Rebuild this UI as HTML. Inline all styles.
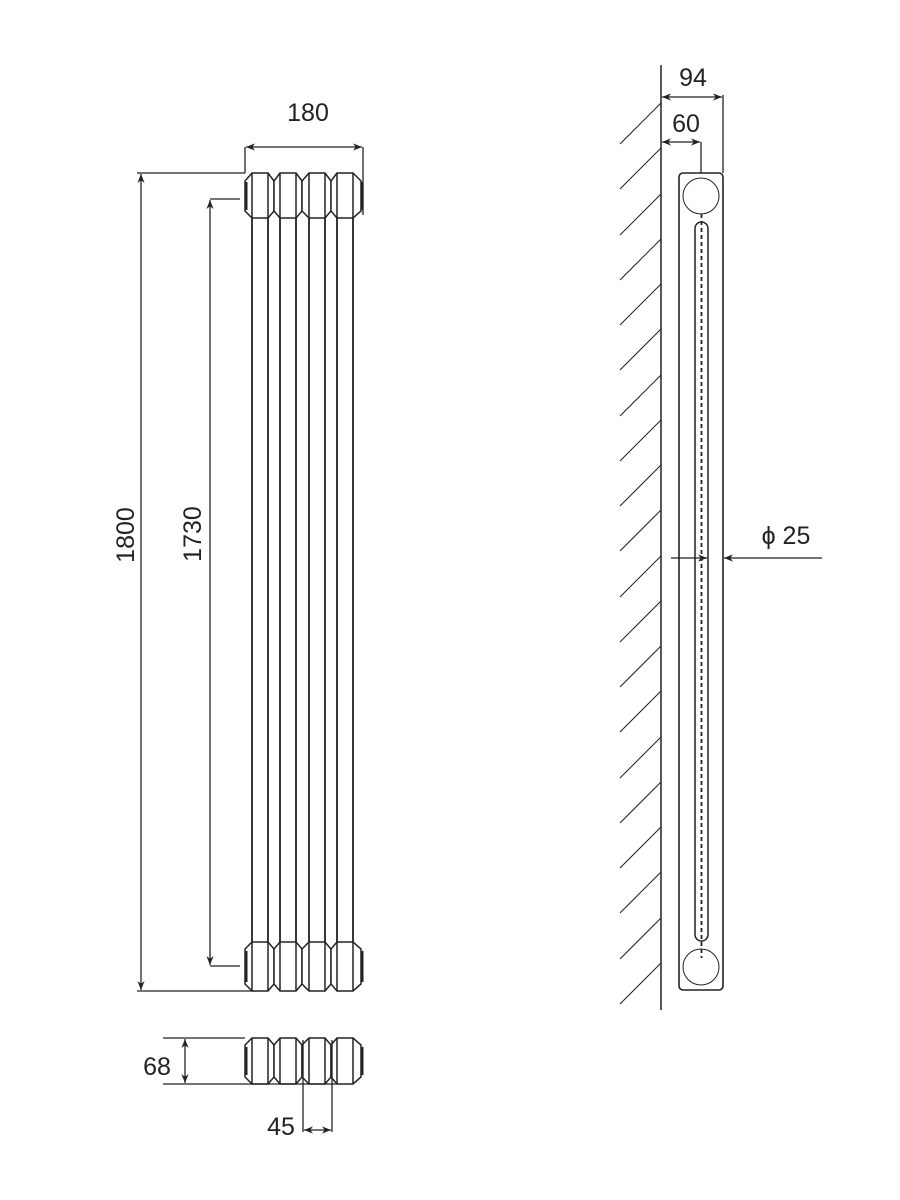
<!DOCTYPE html>
<html><head><meta charset="utf-8"><style>html,body{margin:0;padding:0;background:#fff}svg{display:block}</style></head>
<body>
<svg width="900" height="1200" viewBox="0 0 900 1200" xmlns="http://www.w3.org/2000/svg" font-family="Liberation Sans, sans-serif">
<defs>
<marker id="a" viewBox="0 0 10 10" refX="10" refY="5" markerWidth="9" markerHeight="9" orient="auto-start-reverse" markerUnits="userSpaceOnUse"><path d="M0,1 L10,5 L0,9 L3,5 z" fill="#222"/></marker>
</defs>
<g stroke="#222" stroke-width="1.3" fill="none">
<!-- front view tubes -->
<g stroke-width="1.8">
<line x1="252" y1="173" x2="252" y2="991"/><line x1="268" y1="173" x2="268" y2="991"/>
<line x1="280" y1="173" x2="280" y2="991"/><line x1="296" y1="173" x2="296" y2="991"/>
<line x1="309" y1="173" x2="309" y2="991"/><line x1="325" y1="173" x2="325" y2="991"/>
<line x1="337" y1="173" x2="337" y2="991"/><line x1="353" y1="173" x2="353" y2="991"/>
</g>
<!-- headers -->
<g stroke-width="1.5" fill="#fff">
<path d="M252,173 L268,173 L274,181 L274,211 L268,218 L252,218 L245,211 L245,181 Z"/>
<path d="M280,173 L296,173 L302,181 L302,211 L296,218 L280,218 L274,211 L274,181 Z"/>
<path d="M309,173 L325,173 L331,181 L331,211 L325,218 L309,218 L302,211 L302,181 Z"/>
<path d="M337,173 L353,173 L361,181 L361,211 L353,218 L337,218 L331,211 L331,181 Z"/>
<path d="M252,942 L268,942 L274,949 L274,984 L268,991 L252,991 L245,984 L245,949 Z"/>
<path d="M280,942 L296,942 L302,949 L302,984 L296,991 L280,991 L274,984 L274,949 Z"/>
<path d="M309,942 L325,942 L331,949 L331,984 L325,991 L309,991 L302,984 L302,949 Z"/>
<path d="M337,942 L353,942 L361,949 L361,984 L353,991 L337,991 L331,984 L331,949 Z"/>
</g>
<g stroke-width="1.5">
<line x1="252" y1="173" x2="252" y2="218"/><line x1="268" y1="173" x2="268" y2="218"/>
<line x1="280" y1="173" x2="280" y2="218"/><line x1="296" y1="173" x2="296" y2="218"/>
<line x1="309" y1="173" x2="309" y2="218"/><line x1="325" y1="173" x2="325" y2="218"/>
<line x1="337" y1="173" x2="337" y2="218"/><line x1="353" y1="173" x2="353" y2="218"/>
<line x1="252" y1="942" x2="252" y2="991"/><line x1="268" y1="942" x2="268" y2="991"/>
<line x1="280" y1="942" x2="280" y2="991"/><line x1="296" y1="942" x2="296" y2="991"/>
<line x1="309" y1="942" x2="309" y2="991"/><line x1="325" y1="942" x2="325" y2="991"/>
<line x1="337" y1="942" x2="337" y2="991"/><line x1="353" y1="942" x2="353" y2="991"/>
</g>
<g stroke-width="3"><line x1="246" y1="182" x2="246" y2="210"/><line x1="362" y1="182" x2="362" y2="210"/>
<line x1="246" y1="951" x2="246" y2="982"/><line x1="362" y1="951" x2="362" y2="982"/></g>
<!-- dims front -->
<line x1="245" y1="147" x2="245" y2="173"/><line x1="363" y1="147" x2="363" y2="215"/>
<line x1="246" y1="147" x2="362" y2="147" marker-start="url(#a)" marker-end="url(#a)"/>
<line x1="137" y1="173" x2="245" y2="173"/><line x1="137" y1="991" x2="252" y2="991"/>
<line x1="141" y1="174" x2="141" y2="990" marker-start="url(#a)" marker-end="url(#a)"/>
<line x1="210" y1="199" x2="240" y2="199"/><line x1="210" y1="966" x2="240" y2="966"/>
<line x1="210" y1="200" x2="210" y2="965" marker-start="url(#a)" marker-end="url(#a)"/>
<!-- plan view -->
<g stroke-width="1.5" fill="#fff">
<path d="M252,1038 L268,1038 L274,1045 L274,1077 L268,1084 L252,1084 L245,1077 L245,1045 Z"/>
<path d="M280,1038 L296,1038 L302,1045 L302,1077 L296,1084 L280,1084 L274,1077 L274,1045 Z"/>
<path d="M309,1038 L325,1038 L331,1045 L331,1077 L325,1084 L309,1084 L302,1077 L302,1045 Z"/>
<path d="M337,1038 L353,1038 L361,1045 L361,1077 L353,1084 L337,1084 L331,1077 L331,1045 Z"/>
<line x1="252" y1="1038" x2="252" y2="1084"/><line x1="268" y1="1038" x2="268" y2="1084"/>
<line x1="280" y1="1038" x2="280" y2="1084"/><line x1="296" y1="1038" x2="296" y2="1084"/>
<line x1="309" y1="1038" x2="309" y2="1084"/><line x1="325" y1="1038" x2="325" y2="1084"/>
<line x1="337" y1="1038" x2="337" y2="1084"/><line x1="353" y1="1038" x2="353" y2="1084"/>
</g>
<g stroke-width="3"><line x1="246" y1="1047" x2="246" y2="1075"/><line x1="362" y1="1047" x2="362" y2="1075"/></g>
<line x1="163" y1="1038" x2="245" y2="1038"/><line x1="163" y1="1084" x2="337" y2="1084"/>
<line x1="185" y1="1039" x2="185" y2="1083" marker-start="url(#a)" marker-end="url(#a)"/>
<line x1="303" y1="1040" x2="303" y2="1132"/><line x1="332" y1="1040" x2="332" y2="1132"/>
<line x1="304" y1="1130" x2="331" y2="1130" marker-start="url(#a)" marker-end="url(#a)"/>
<!-- side view -->
<line x1="661" y1="65" x2="661" y2="1010" stroke-width="1.5"/>
<g stroke-width="1">
<line x1="661" y1="103" x2="620" y2="144"/><line x1="661" y1="148" x2="620" y2="189"/><line x1="661" y1="194" x2="620" y2="235"/><line x1="661" y1="239" x2="620" y2="280"/><line x1="661" y1="284" x2="620" y2="325"/><line x1="661" y1="329" x2="620" y2="370"/><line x1="661" y1="375" x2="620" y2="416"/><line x1="661" y1="420" x2="620" y2="461"/><line x1="661" y1="465" x2="620" y2="506"/><line x1="661" y1="510" x2="620" y2="551"/><line x1="661" y1="556" x2="620" y2="597"/><line x1="661" y1="601" x2="620" y2="642"/><line x1="661" y1="646" x2="620" y2="687"/><line x1="661" y1="691" x2="620" y2="732"/><line x1="661" y1="737" x2="620" y2="778"/><line x1="661" y1="782" x2="620" y2="823"/><line x1="661" y1="827" x2="620" y2="868"/><line x1="661" y1="872" x2="620" y2="913"/><line x1="661" y1="918" x2="620" y2="959"/><line x1="661" y1="963" x2="620" y2="1004"/>
</g>
<rect x="679" y="173" width="44" height="817" rx="4" stroke-width="1.6"/>
<circle cx="701" cy="196" r="18" stroke-width="1"/>
<circle cx="701" cy="967" r="18" stroke-width="1"/>
<rect x="695" y="222" width="13" height="719" rx="6.5" stroke-width="1.5"/>
<line x1="701.5" y1="214" x2="701.5" y2="958" stroke-dasharray="4,3" stroke-width="1.8"/>
<line x1="723" y1="95" x2="723" y2="173"/>
<line x1="662" y1="97" x2="722" y2="97" marker-start="url(#a)" marker-end="url(#a)"/>
<line x1="701" y1="142" x2="701" y2="173"/>
<line x1="662" y1="142" x2="700" y2="142" marker-start="url(#a)" marker-end="url(#a)"/>
<line x1="671" y1="558" x2="707" y2="558" marker-end="url(#a)"/>
<line x1="822" y1="558" x2="724" y2="558" marker-end="url(#a)"/>
</g>
<g fill="#222" font-size="25">
<text x="308" y="121" text-anchor="middle">180</text>
<text transform="translate(134,535) rotate(-90)" text-anchor="middle">1800</text>
<text transform="translate(201,534) rotate(-90)" text-anchor="middle">1730</text>
<text x="157" y="1075" text-anchor="middle">68</text>
<text x="281" y="1135" text-anchor="middle">45</text>
<text x="693" y="86" text-anchor="middle">94</text>
<text x="686" y="132" text-anchor="middle">60</text>
<text x="786" y="544" text-anchor="middle">ϕ 25</text>
</g>
</svg>
</body></html>
